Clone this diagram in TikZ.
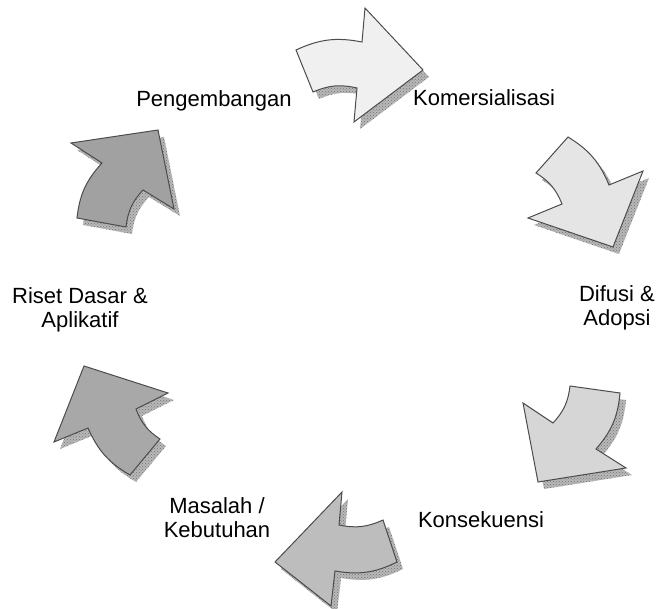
\documentclass[tikz,border=0pt]{standalone}
\usepackage{fontspec}
\setmainfont{Liberation Sans}
\usepackage{tikz}
\usetikzlibrary{patterns}
\tikzset{
  arrowbody/.style ={draw=black!70, line width=1pt, line join=miter},
  arrowshade/.style={pattern=crosshatch dots, pattern color=black!55},
  lbl/.style       ={font=\fontsize{22}{24}\selectfont, align=center, inner sep=0pt, anchor=base},
}
% #1 fill, #2 tail outer, #3 notch outer, #4 head outer, #5 tip, #6 head inner, #7 notch inner, #8 tail inner
\newcommand{\cyclearrow}[8]{%
  \fill[black!28, shift={(6,7)}] #2 to[bend left=18] #3 -- #4 -- #5 -- #6 -- #7 to[bend right=18] #8 -- cycle;
  \path[arrowshade, shift={(6,7)}] #2 to[bend left=18] #3 -- #4 -- #5 -- #6 -- #7 to[bend right=18] #8 -- cycle;
  \filldraw[arrowbody, fill=#1] #2 to[bend left=18] #3 -- #4 -- #5 -- #6 -- #7 to[bend right=18] #8 -- cycle;
}

\begin{document}
\begin{tikzpicture}[x=1pt, y=-1pt]
  \useasboundingbox (0,0) rectangle (659,609);
  % arrows, clockwise from the top
  \cyclearrow{black!6} {(296,50)} {(362,42)} {(365,8)}  {(423,70)} {(354,122)} {(357,88)} {(313,92)}
  \cyclearrow{black!10}{(568,137)}{(609,185)}{(643,171)}{(613,247)}{(528,218)}{(562,204)}{(536,173)}
  \cyclearrow{black!16}{(620,393)}{(596,449)}{(626,468)}{(538,482)}{(523,403)}{(553,423)}{(570,386)}
  \cyclearrow{black!26}{(397,562)}{(335,571)}{(331,606)}{(275,562)}{(342,492)}{(339,525)}{(383,520)}
  \cyclearrow{black!34}{(130,475)}{(88,428)} {(54,442)} {(84,366)} {(168,393)}{(136,409)}{(160,439)}
  \cyclearrow{black!37}{(77,218)} {(102,163)}{(71,143)} {(158,130)}{(174,209)}{(143,190)}{(126,227)}
  % labels (base = last line)
  \node[lbl] (dev)  at (214,107) {Pengembangan};
  \node[lbl] (com)  at (484,106) {Komersialisasi};
  \node[lbl] (dif)  at (617,326) {Difusi \&\\Adopsi};
  \node[lbl] (kon)  at (481,527) {Konsekuensi};
  \node[lbl] (need) at (217,537) {Masalah /\\Kebutuhan};
  \node[lbl] (res)  at (80,328)  {Riset Dasar \&\\Aplikatif};
\end{tikzpicture}
\end{document}
